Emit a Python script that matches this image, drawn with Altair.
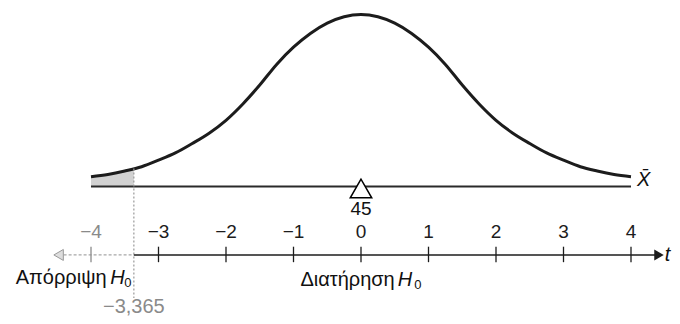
import altair as alt
import pandas as pd

# ---------------- data ----------------
curve_t = [-4.0, -3.75, -3.5, -3.25, -3.0, -2.75, -2.5, -2.25, -2.0, -1.75, -1.5, -1.25,
           -1.0, -0.75, -0.5, -0.25, 0.0, 0.25, 0.5, 0.75, 1.0, 1.25, 1.5, 1.75,
           2.0, 2.25, 2.5, 2.75, 3.0, 3.25, 3.5, 3.75, 4.0]
curve_h = [0.057, 0.07, 0.09, 0.115, 0.153, 0.195, 0.25, 0.31, 0.385, 0.48, 0.59, 0.71,
           0.81, 0.89, 0.95, 0.987, 1.0, 0.987, 0.95, 0.89, 0.81, 0.71, 0.59, 0.48,
           0.385, 0.31, 0.25, 0.195, 0.153, 0.115, 0.09, 0.07, 0.057]
crit_t = -3.365
crit_h = 0.104
tick_values = [-4, -3, -2, -1, 0, 1, 2, 3, 4]
tick_labels = ["\u22124", "\u22123", "\u22122", "\u22121", "0", "1", "2", "3", "4"]
center_label = "45"
crit_label = "\u22123,365"
reject_label = "Απόρριψη"
keep_label = "Διατήρηση"

# ---------------- layout (scale units) ----------------
W, H = 664, 308
XDOM = [-5.2296, 4.6074]
YDOM = [-0.7529, 1.0378]
AXIS_Y = -0.398
TICK_TOP, TICK_BOT = -0.35, -0.44
TICKLAB_Y = -0.265
NUM_Y = -0.131
REJ_Y = -0.532
KEEP_Y = -0.544
CRIT_Y = -0.70
VLINE_BOT = -0.648
XBAR_X, XBAR_Y = 4.09, 0.036
ARROW_R, ARROW_L = 4.415, -4.48
FONT = "Liberation Sans"
GREY = "#8a8a8a"
LABEL_SIZE = 20
NUM_SIZE = 19

xs = alt.Scale(domain=XDOM, nice=False, zero=False)
ys = alt.Scale(domain=YDOM, nice=False, zero=False)


def X(f="x"):
    return alt.X(f, type="quantitative", scale=xs, axis=None)


def Y(f="y"):
    return alt.Y(f, type="quantitative", scale=ys, axis=None)


def seg(x, x2, y, y2):
    return alt.Chart(pd.DataFrame({"x": [x], "x2": [x2], "y": [y], "y2": [y2]}))


def pt(x, y):
    return alt.Chart(pd.DataFrame({"x": [x], "y": [y]}))


curve = pd.DataFrame({"x": curve_t, "y": curve_h})
shade = pd.DataFrame({"x": [t for t in curve_t if t < crit_t] + [crit_t],
                      "y": [h for t, h in zip(curve_t, curve_h) if t < crit_t] + [crit_h],
                      "y0": 0.0})
ticks = pd.DataFrame({"x": tick_values, "label": tick_labels,
                      "grey": [t < crit_t for t in tick_values],
                      "ly": TICKLAB_Y, "ty": TICK_TOP, "ty2": TICK_BOT})

shade_m = alt.Chart(shade).mark_area(color="#d2d2d2", interpolate="monotone").encode(
    x=X(), y=Y(), y2="y0")
curve_m = alt.Chart(curve).mark_line(color="#1c1c1c", strokeWidth=3, interpolate="monotone").encode(
    x=X(), y=Y())


def rule(x, x2, y, y2, **kw):
    return seg(x, x2, y, y2).mark_rule(**kw).encode(x=X(), x2="x2", y=Y(), y2="y2")


baseline = rule(curve_t[0], curve_t[-1], 0, 0, color="#2a2a2a", strokeWidth=2)
vline = rule(crit_t, crit_t, crit_h, VLINE_BOT, color="#9a9a9a", strokeWidth=1.2, strokeDash=[2, 2])
axis_left = rule(ARROW_L, crit_t, AXIS_Y, AXIS_Y, color="#a8a8a8", strokeWidth=1.3, strokeDash=[3, 2])
axis_right = rule(crit_t, ARROW_R, AXIS_Y, AXIS_Y, color="#1c1c1c", strokeWidth=1.5)

tri = pt(0, 0).mark_point(shape="triangle-up", size=460, filled=True, fill="white",
                          stroke="black", strokeWidth=1.5, opacity=1, yOffset=2).encode(x=X(), y=Y())
arr_r = pt(ARROW_R, AXIS_Y).mark_point(shape="triangle-right", size=120, filled=True,
                                       color="#1c1c1c", opacity=1).encode(x=X(), y=Y())
arr_l = pt(ARROW_L, AXIS_Y).mark_point(shape="triangle-left", size=120, filled=True, fill="#dddddd",
                                       stroke="#999999", strokeWidth=1, opacity=1).encode(x=X(), y=Y())


def label(txt, t, y, align, size=LABEL_SIZE, style="normal", dy=0, color="#111"):
    return pt(t, y).mark_text(text=txt, font=FONT, fontSize=size, fontStyle=style,
                              align=align, baseline="middle", dy=dy, color=color).encode(x=X(), y=Y())


num = label(center_label, 0, NUM_Y, "center", size=NUM_SIZE)
xbar = label("X\u0304", XBAR_X, XBAR_Y, "left", size=20, style="italic")
tlab = label("t", 4.50, AXIS_Y, "left", size=20, style="italic")

tick_m = alt.Chart(ticks).mark_rule(strokeWidth=1.3).encode(
    x=X(), y=Y("ty"), y2="ty2",
    color=alt.Color("grey:N", scale=alt.Scale(domain=[True, False], range=[GREY, "#1c1c1c"]), legend=None))
ticklab = alt.Chart(ticks).mark_text(font=FONT, fontSize=NUM_SIZE, baseline="middle").encode(
    x=X(), y=Y("ly"), text="label:N",
    color=alt.Color("grey:N", scale=alt.Scale(domain=[True, False], range=[GREY, "#111111"]), legend=None))

rej = label(reject_label, -3.77, REJ_Y, "right")
rej_h = label("H", -3.50, REJ_Y, "right", style="italic")
rej_0 = label("0", -3.40, REJ_Y, "right", size=13, dy=5)
keep = label(keep_label, 0.50, KEEP_Y, "right")
keep_h = label("H", 0.545, KEEP_Y, "left", style="italic")
keep_0 = label("0", 0.79, KEEP_Y, "left", size=13, dy=5)
crit = label(crit_label, crit_t, CRIT_Y, "center", color=GREY)

chart = alt.layer(
    shade_m, curve_m, baseline, vline, tri, num, xbar,
    axis_left, axis_right, arr_r, arr_l, tlab, tick_m, ticklab,
    rej, rej_h, rej_0, keep, keep_h, keep_0, crit
).properties(
    width=W, height=H, padding=0, autosize=alt.AutoSizeParams(type="none")
).configure_view(stroke=None)

chart.save("out.html", embed_options={"renderer": "svg", "actions": False})
